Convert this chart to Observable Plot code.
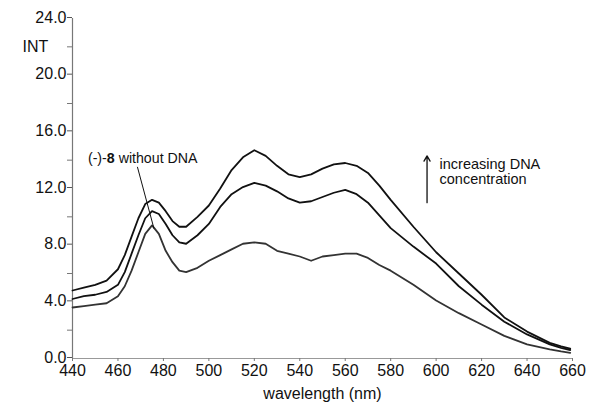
<!DOCTYPE html>
<html>
<head>
<meta charset="utf-8">
<script src="https://cdn.jsdelivr.net/npm/d3@7"></script>
<script src="https://cdn.jsdelivr.net/npm/@observablehq/plot@0.6"></script>
<style>
  html, body { margin: 0; padding: 0; background: #fff; }
  svg { display: block; }
</style>
</head>
<body>
<div id="chart"></div>
<script>
// wavelength (nm)
const wavelengths = [440,445,450,455,460,463,466,469,472,475,478,481,484,487,490,495,500,505,510,515,520,525,530,535,540,545,550,555,560,565,570,575,580,590,600,610,620,630,640,650,655,659];
// highest DNA concentration
const seriesHigh = [4.8,5.0,5.2,5.5,6.3,7.3,8.6,9.9,10.9,11.2,11.0,10.4,9.7,9.3,9.3,10.0,10.8,12.0,13.3,14.2,14.7,14.3,13.6,13.0,12.8,13.0,13.4,13.7,13.8,13.6,13.1,12.2,11.2,9.3,7.5,6.0,4.5,2.9,1.9,1.1,0.85,0.7];
// intermediate DNA concentration
const seriesMid = [4.2,4.4,4.5,4.7,5.2,6.1,7.4,8.7,9.9,10.4,10.2,9.5,8.7,8.2,8.1,8.7,9.5,10.7,11.6,12.1,12.4,12.2,11.8,11.3,11.0,11.1,11.4,11.7,11.9,11.6,11.0,10.1,9.2,7.9,6.7,5.1,3.8,2.6,1.7,1.0,0.75,0.6];
// (-)-8 without DNA
const seriesNoDNA = [3.6,3.7,3.8,3.9,4.4,5.1,6.2,7.5,8.8,9.4,8.8,7.6,6.8,6.2,6.1,6.4,6.9,7.3,7.7,8.1,8.2,8.1,7.6,7.4,7.2,6.9,7.2,7.3,7.4,7.4,7.1,6.6,6.2,5.2,4.1,3.2,2.4,1.6,1.0,0.65,0.5,0.4];

const xTicks = [440,460,480,500,520,540,560,580,600,620,640,660];
const yTicks = [0,4,8,12,16,20,24];
const yMinorTicks = [2,6,10,14,18,22];

// annotation anchors (data coordinates)
const pointerLine = [{x: 468.6, y: 13.5}, {x: 475.8, y: 9.2}];
const arrowLine = {x: 596, y1: 11.0, y2: 14.3};

const rows = [];
const seriesList = [["high", seriesHigh], ["mid", seriesMid], ["none", seriesNoDNA]];
for (const [name, vals] of seriesList) {
  wavelengths.forEach((w, i) => rows.push({series: name, wl: w, v: vals[i]}));
}

const chart = Plot.plot({
  width: 592,
  height: 404,
  marginLeft: 72,
  marginRight: 20,
  marginTop: 18,
  marginBottom: 46,
  style: {fontFamily: "'Liberation Sans', Arial, sans-serif", background: "#fff", color: "#111"},
  x: {domain: [440, 660]},
  y: {domain: [0, 24]},
  marks: [
    Plot.ruleX([440], {stroke: "#777", strokeWidth: 1.2}),
    Plot.ruleY([0], {stroke: "#999", strokeWidth: 1.2}),
    Plot.axisY(yTicks, {tickFormat: d3.format(".1f"), tickSize: 5, tickPadding: 1, fontSize: 16, label: null, stroke: "#555", dy: -1}),
    Plot.axisY(yMinorTicks, {tickSize: 5, text: null, label: null, stroke: "#777"}),
    Plot.axisX(xTicks, {tickSize: 3, tickPadding: 3, fontSize: 16, label: "wavelength (nm)", labelAnchor: "center", labelArrow: "none", labelOffset: 40, stroke: "#777"}),
    Plot.text(["INT"], {x: 440, y: 22.0, dx: -37, text: d => d, fontSize: 16, textAnchor: "middle"}),
    Plot.line(rows, {x: "wl", y: "v", z: "series", stroke: d => d.series === "none" ? "#333" : "#111", strokeWidth: 1.8, curve: "linear"}),
    Plot.line(pointerLine, {x: "x", y: "y", stroke: "#111", strokeWidth: 1}),
    Plot.arrow([arrowLine], {x: "x", y1: "y1", y2: "y2", stroke: "#111", strokeWidth: 1.3, headLength: 7}),
    Plot.text(["increasing DNA\nconcentration"], {x: 601.5, y: 14.1, text: d => d, fontSize: 14.5, textAnchor: "start", lineAnchor: "top", lineHeight: 1.0})
  ]
});

// "(-)-8 without DNA" with bold 8, as real text
const svg = d3.select(chart);
const xs = d3.scaleLinear().domain([440, 660]).range([72, 572]);
const ys = d3.scaleLinear().domain([0, 24]).range([358, 18]);
const t = svg.append("text")
  .attr("x", xs(447)).attr("y", ys(13.8))
  .attr("font-size", 14.2)
  .attr("text-anchor", "start")
  .attr("fill", "#111")
  .attr("font-family", "'Liberation Sans', Arial, sans-serif");
t.append("tspan").text("(-)-");
t.append("tspan").attr("font-weight", "bold").text("8");
t.append("tspan").text(" without DNA");

document.getElementById("chart").appendChild(chart);
</script>
</body>
</html>
